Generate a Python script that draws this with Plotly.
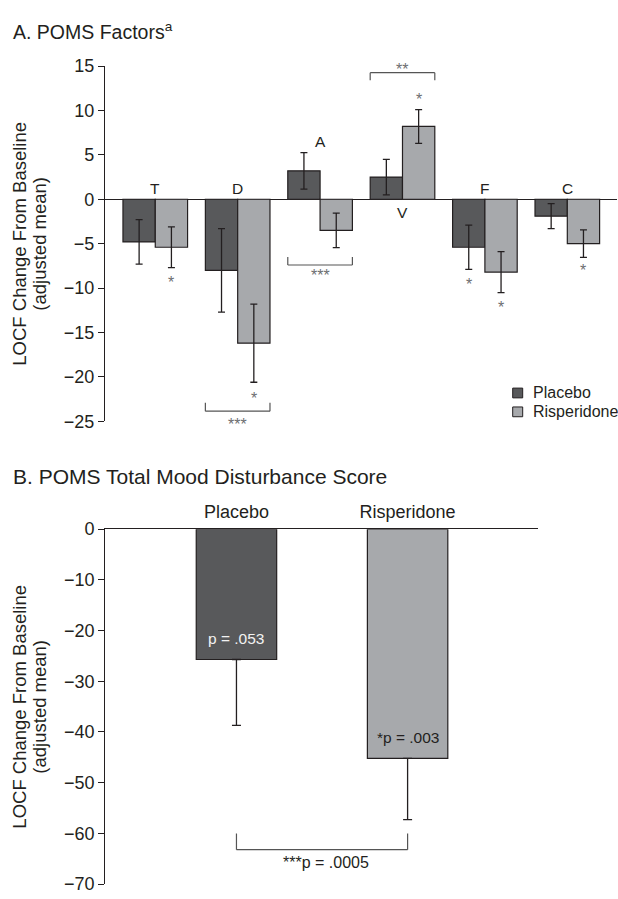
import plotly.graph_objects as go

# ---------------- data ----------------
factors = ["T", "D", "A", "V", "F", "C"]
placebo = [-4.8, -8.0, 3.2, 2.5, -5.4, -1.9]
placebo_err = [2.5, 4.7, 2.05, 2.0, 2.5, 1.4]
risperidone = [-5.4, -16.2, -3.5, 8.2, -8.2, -5.0]
risperidone_err = [2.3, 4.4, 1.95, 1.9, 2.3, 1.55]

groups = ["Placebo", "Risperidone"]
tmd = [-25.7, -45.2]
tmd_err = [13.0, 12.1]

top_ticks = [15, 10, 5, 0, -5, -10, -15, -20, -25]
bottom_ticks = [0, -10, -20, -30, -40, -50, -60, -70]

# ---------------- styles ----------------
W, H = 618, 899
FONT = "Liberation Sans, Arial, Helvetica, sans-serif"
DARK = "#58595b"
LIGHT = "#a7a9ac"
INK = "#231f20"
STAR = "#6d6e71"


def px_x(p):
    return p / W


def px_y(p):
    return 1 - p / H


fig = go.Figure()

fig.add_trace(go.Bar(
    x=factors, y=placebo, name="Placebo", xaxis="x", yaxis="y",
    marker=dict(color=DARK, line=dict(color=INK, width=1.2)),
    error_y=dict(type="data", array=placebo_err, color=INK, thickness=1.3, width=3.5),
    showlegend=False,
))
fig.add_trace(go.Bar(
    x=factors, y=risperidone, name="Risperidone", xaxis="x", yaxis="y",
    marker=dict(color=LIGHT, line=dict(color=INK, width=1.2)),
    error_y=dict(type="data", array=risperidone_err, color=INK, thickness=1.3, width=3.5),
    showlegend=False,
))
fig.add_trace(go.Bar(
    x=groups, y=tmd, xaxis="x2", yaxis="y2", width=0.47,
    marker=dict(color=[DARK, LIGHT], line=dict(color=INK, width=1.2)),
    error_y=dict(type="data", symmetric=False, array=[0, 0], arrayminus=tmd_err,
                 color=INK, thickness=1.3, width=4.5),
    showlegend=False,
))

axis_common = dict(showgrid=False, linecolor=INK, linewidth=1.2, tickcolor=INK,
                   tickfont=dict(family=FONT, size=18, color=INK))

fig.update_layout(
    width=W, height=H, autosize=False,
    margin=dict(l=0, r=0, t=0, b=0),
    paper_bgcolor="white", plot_bgcolor="white",
    barmode="group", bargap=0.216, bargroupgap=0,
    font=dict(family=FONT, color=INK),
    xaxis=dict(domain=[px_x(105), px_x(617)], type="category", range=[-0.61, 5.603],
               showticklabels=False, showline=False, showgrid=False, zeroline=False,
               ticks="", anchor="y", fixedrange=True),
    yaxis=dict(domain=[px_y(420.7), px_y(57.3)], range=[-25, 15], tickvals=top_ticks,
               ticks="outside", ticklen=6, showline=True, zeroline=True,
               zerolinecolor=INK, zerolinewidth=1.2, anchor="x", **axis_common),
    xaxis2=dict(domain=[px_x(105.2), px_x(538)], type="category", range=[-0.767, 1.762],
                side="top", showline=True, linecolor=INK, linewidth=1.2, ticks="",
                showgrid=False, zeroline=False, anchor="y2", ticklabelstandoff=3,
                tickfont=dict(family=FONT, size=18, color=INK)),
    yaxis2=dict(domain=[px_y(894), px_y(531)], range=[-70, 0], tickvals=bottom_ticks,
                ticks="outside", ticklen=6, showline=True, zeroline=False,
                anchor="x2", **axis_common),
)

ann = []
# panel titles
ann.append(dict(text="A. POMS Factors<sup>a</sup>", xref="paper", yref="paper",
                x=px_x(11), y=px_y(21.7), xanchor="left", yanchor="middle",
                showarrow=False, font=dict(size=19.5, color=INK)))
ann.append(dict(text="B. POMS Total Mood Disturbance Score", xref="paper", yref="paper",
                x=px_x(11), y=px_y(476.7), xanchor="left", yanchor="middle",
                showarrow=False, font=dict(size=21, color=INK)))
# y-axis titles
for yc in (239, 712.5):
    ann.append(dict(text="LOCF Change From Baseline", xref="paper", yref="paper",
                    x=px_x(20), y=px_y(yc), textangle=-90, showarrow=False,
                    xanchor="center", yanchor="middle", font=dict(size=18.5, color=INK)))
    ann.append(dict(text="(adjusted mean)", xref="paper", yref="paper",
                    x=px_x(40), y=px_y(yc), textangle=-90, showarrow=False,
                    xanchor="center", yanchor="middle", font=dict(size=18.5, color=INK)))

# factor labels (top panel)
factor_label_pos = [(0, 1.17), (1, 1.17), (2, 6.55), (3, -1.5), (4, 1.2), (5, 1.2)]
for lab, (xi, yv) in zip(factors, factor_label_pos):
    ann.append(dict(text=lab, x=xi, y=yv, xref="x", yref="y", showarrow=False,
                    font=dict(size=15.5, color=INK)))

# significance marks (top panel)
stars_top = [("*", 0.196, -9.4), ("*", 1.196, -22.4),
             ("***", 2.0, -8.55), ("**", 3.0, 14.6), ("*", 3.196, 11.2),
             ("*", 3.804, -9.55), ("*", 4.196, -12.2), ("*", 5.196, -8.05)]
for txt, xi, yv in stars_top:
    ann.append(dict(text=txt, x=xi, y=yv, xref="x", yref="y", showarrow=False,
                    font=dict(size=16, color=STAR)))
# the D-factor bracket label sits just below the axis range, so place it in paper space
ann.append(dict(text="***", x=px_x(237.7), y=px_y(424), xref="paper", yref="paper",
                showarrow=False, font=dict(size=16, color=STAR)))

# p values (bottom panel)
ann.append(dict(text="p = .053", x=0, y=-21.5, xref="x2", yref="y2", showarrow=False,
                font=dict(size=15.5, color="#f2f2f2")))
ann.append(dict(text="*p = .003", x=1, y=-41.0, xref="x2", yref="y2", showarrow=False,
                font=dict(size=15.5, color=INK)))
ann.append(dict(text="***p = .0005", x=0.523, y=-65.8, xref="x2", yref="y2", showarrow=False,
                font=dict(size=16, color=INK)))

# legend (manual)
legend_items = [("Placebo", DARK, 391.7), ("Risperidone", LIGHT, 411.0)]
shapes = []
for name, col, yc in legend_items:
    shapes.append(dict(type="rect", xref="paper", yref="paper",
                       x0=px_x(512.7), x1=px_x(522.7), y0=px_y(yc + 5), y1=px_y(yc - 5),
                       fillcolor=col, line=dict(color=INK, width=1)))
    ann.append(dict(text=name, xref="paper", yref="paper", x=px_x(531), y=px_y(yc),
                    xanchor="left", yanchor="middle", showarrow=False,
                    font=dict(size=16, color=INK)))

# brackets
BR = dict(color="#555555", width=1.2)
brackets_top = [(0.608, 1.392, -22.9, -23.85), (1.608, 2.392, -6.5, -7.4),
                (2.608, 3.392, 13.4, 14.25)]
for x0, x1, yend, ybar in brackets_top:
    shapes.append(dict(type="line", xref="x", yref="y", x0=x0, x1=x1, y0=ybar, y1=ybar, line=BR))
    shapes.append(dict(type="line", xref="x", yref="y", x0=x0, x1=x0, y0=yend, y1=ybar, line=BR))
    shapes.append(dict(type="line", xref="x", yref="y", x0=x1, x1=x1, y0=yend, y1=ybar, line=BR))
shapes.append(dict(type="line", xref="x2", yref="y2", x0=0, x1=1, y0=-63.2, y1=-63.2, line=BR))
shapes.append(dict(type="line", xref="x2", yref="y2", x0=0, x1=0, y0=-60.0, y1=-63.2, line=BR))
shapes.append(dict(type="line", xref="x2", yref="y2", x0=1, x1=1, y0=-60.0, y1=-63.2, line=BR))

fig.update_layout(annotations=ann, shapes=shapes)

fig.write_html("out.html")
